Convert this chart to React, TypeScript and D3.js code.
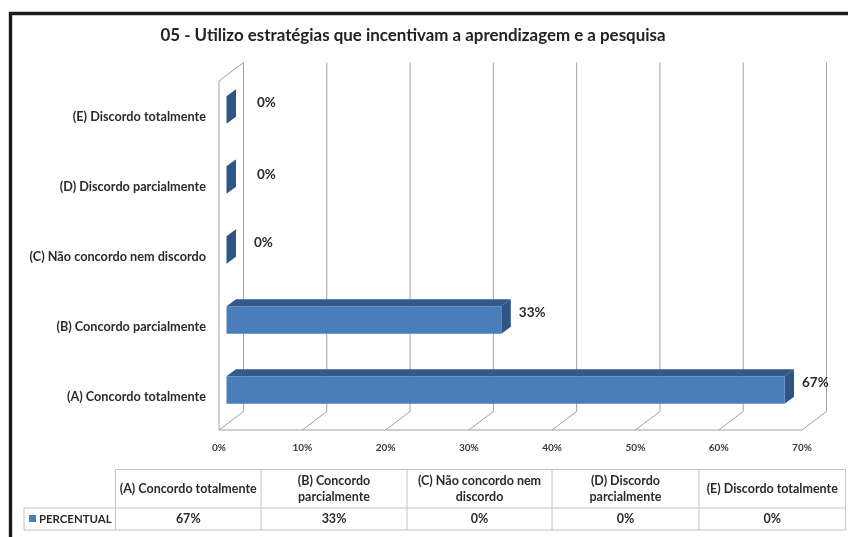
import React from "react";
import * as d3 from "d3";

const title = "05 - Utilizo estratégias que incentivam a aprendizagem e a pesquisa";
const categories = ["(A) Concordo totalmente", "(B) Concordo parcialmente", "(C) Não concordo nem discordo", "(D) Discordo parcialmente", "(E) Discordo totalmente"];
const values = [67, 33, 0, 0, 0];
const xTicks = [0, 10, 20, 30, 40, 50, 60, 70];
const tableHeaders = [["(A) Concordo totalmente"], ["(B) Concordo", "parcialmente"], ["(C) Não concordo nem", "discordo"], ["(D) Discordo", "parcialmente"], ["(E) Discordo totalmente"]];
const seriesName = "PERCENTUAL";

const x = d3.scaleLinear().domain([0, 70]).range([219, 802]);
const y = d3.scaleBand().domain(categories).range([425, 75]);
const depth = { dx: 24.5, dy: -18.5 };
const barOff = { dx: 7.5 };
const barTop = { dx: 9.5, dy: -7 };
const barH = 27.5;
const plotTop = 81;
const plotBottom = 430;
// hand-placed data label offsets of the original chart, by category index
const labelLayout = [{ dx: -5, dy: 0 }, { dx: -5, dy: 0 }, { dx: 5, dy: 0 }, { dx: 8, dy: 2 }, { dx: 8, dy: 0 }];
const tableX = [115.5, 261, 407, 552, 699, 845.5];
const tableY = [469.5, 508, 530];
const font = "Lato, 'Open Sans', sans-serif";
const ink = "#2b2b2b";
const gridCol = "#a0a0a0";
const tableCol = "#c4c4c4";

export default function App() {
  return (
    <svg width={848} height={537} viewBox="0 0 848 537" style={{ position: "fixed", left: 0, top: 0, background: "#fff" }} fontFamily={font} fontWeight={700}>
      <defs>
        <filter id="soft" x="0" y="0" width="100%" height="100%">
          <feGaussianBlur stdDeviation="0.5" />
        </filter>
      </defs>
      <g filter="url(#soft)">
        <rect x={0} y={0} width={848} height={537} fill="#fff" />
        <path d="M10.5 537V13.5H848" fill="none" stroke="#1c1c1c" strokeWidth={3.4} />
        <text x={413} y={40.5} textAnchor="middle" fontSize={16.9} fill="#222">{title}</text>

        {/* back wall gridlines and floor */}
        {xTicks.map((t) => (
          <g key={t} stroke={gridCol} strokeWidth={1} fill="none">
            <line x1={x(t) + depth.dx} x2={x(t) + depth.dx} y1={plotTop + depth.dy} y2={plotBottom + depth.dy} />
            <line x1={x(t)} x2={x(t) + depth.dx} y1={plotBottom} y2={plotBottom + depth.dy} />
          </g>
        ))}
        <g stroke={gridCol} strokeWidth={1} fill="none">
          <line x1={x(0)} x2={x(0)} y1={plotTop} y2={plotBottom} />
          <line x1={x(0)} x2={x(0) + depth.dx} y1={plotTop} y2={plotTop + depth.dy} />
          <line x1={x(0)} x2={x(70)} y1={plotBottom} y2={plotBottom} />
        </g>

        {/* bars */}
        {categories.map((c, i) => {
          const y0 = (y(c) as number) + y.bandwidth() / 2 - barH / 2;
          const left = x(0) + barOff.dx;
          const right = left + (x(values[i]) - x(0));
          return (
            <g key={c}>
              <path d={`M${left} ${y0}L${left + barTop.dx} ${y0 + barTop.dy}H${right + barTop.dx}L${right} ${y0}Z`} fill="#32598c" />
              <path d={`M${right} ${y0}L${right + barTop.dx} ${y0 + barTop.dy}V${y0 + barH + barTop.dy}L${right} ${y0 + barH}Z`} fill="#2e5587" />
              <rect x={left} y={y0} width={right - left} height={barH} fill="#4a7ebb" />
              <text x={right + barTop.dx + 13 + labelLayout[i].dx} y={y0 + barH / 2 - 6 + labelLayout[i].dy} dominantBaseline="middle" fontSize={13.5} fill={ink}>{values[i]}%</text>
              <text x={206} y={y0 + barH / 2 + 7.5} textAnchor="end" dominantBaseline="middle" fontSize={12.7} fill={ink}>{c}</text>
            </g>
          );
        })}

        {/* x axis tick labels */}
        {xTicks.map((t) => (
          <text key={t} x={x(t)} y={451} textAnchor="middle" fontSize={10} fill="#3a3a3a">{t}%</text>
        ))}

        {/* data table */}
        <g stroke={tableCol} strokeWidth={1} fill="none">
          <line x1={tableX[0]} x2={tableX[5]} y1={tableY[0]} y2={tableY[0]} />
          <line x1={24} x2={tableX[5]} y1={tableY[1]} y2={tableY[1]} />
          <line x1={24} x2={tableX[5]} y1={tableY[2]} y2={tableY[2]} />
          <line x1={24} x2={24} y1={tableY[1]} y2={tableY[2]} />
          {tableX.map((tx) => (
            <line key={tx} x1={tx} x2={tx} y1={tableY[0]} y2={tableY[2]} />
          ))}
        </g>
        {tableHeaders.map((lines, i) => {
          const cx = (tableX[i] + tableX[i + 1]) / 2;
          const my = (tableY[0] + tableY[1]) / 2;
          return (
            <g key={i}>
              <text textAnchor="middle" fontSize={12.5} fill={ink}>
                {lines.map((l, k) => (
                  <tspan key={k} x={cx} y={my + 4 + (k - (lines.length - 1) / 2) * 16}>{l}</tspan>
                ))}
              </text>
              <text x={cx} y={523} textAnchor="middle" fontSize={12.5} fill={ink}>{values[i]}%</text>
            </g>
          );
        })}
        <rect x={29} y={515} width={7} height={7} fill="#4a7ebb" />
        <text x={39} y={522.5} fontSize={11.4} fill={ink}>{seriesName}</text>
      </g>
    </svg>
  );
}
